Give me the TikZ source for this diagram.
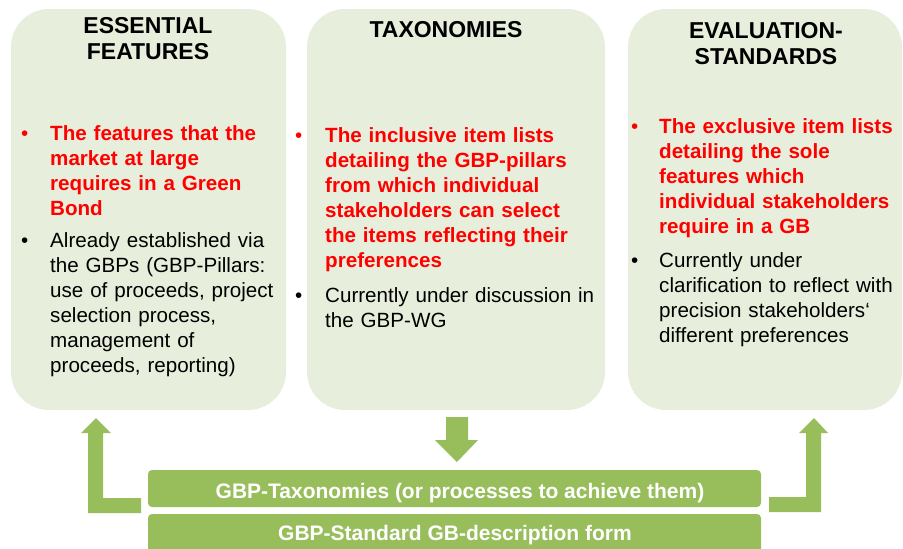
\documentclass[tikz,border=0pt]{standalone}
\usepackage{fontspec}
\setmainfont{Liberation Sans}
\definecolor{boxfill}{RGB}{231,239,220}
\definecolor{bargreen}{RGB}{152,190,92}
\definecolor{redtxt}{RGB}{255,0,0}
\tikzset{
  panel/.style={fill=boxfill, draw=none, rounded corners=38pt, inner sep=0pt},
  bar/.style={fill=bargreen, draw=none, rounded corners=4pt, inner sep=0pt},
  ttl/.style={font=\bfseries\fontsize{23}{26}\selectfont, text width=270pt, align=center, anchor=base, inner sep=0pt},
  redpara/.style={font=\bfseries\fontsize{20.6}{25}\selectfont, text=redtxt, text width=300pt, align=left, anchor=base west, inner sep=0pt},
  blkpara/.style={font=\fontsize{20.6}{25}\selectfont, text=black, text width=300pt, align=left, anchor=base west, inner sep=0pt},
  redbul/.style={font=\fontsize{20.6}{25}\selectfont, text=redtxt, anchor=base west, inner sep=0pt},
  blkbul/.style={font=\fontsize{20.6}{25}\selectfont, text=black, anchor=base west, inner sep=0pt},
  bartxt/.style={font=\bfseries\fontsize{21}{25}\selectfont, text=white, anchor=base, inner sep=0pt},
  blockarrow/.style={fill=bargreen, draw=none}
}
\begin{document}
\begin{tikzpicture}[x=1pt,y=-1pt]
\useasboundingbox (0,0) rectangle (903,549);
\clip (0,0) rectangle (903,549);
% panels
\node[panel, minimum width=275pt, minimum height=401pt] (box1) at (148.5,209.5) {};
\node[panel, minimum width=298pt, minimum height=401pt] (box2) at (456,209.5) {};
\node[panel, minimum width=274pt, minimum height=401pt] (box3) at (765,209.5) {};
% titles
\node[ttl] (t1) at (148,33) {ESSENTIAL\\FEATURES};
\node[ttl] (t2) at (446,37) {TAXONOMIES};
\node[ttl] (t3) at (766,38) {EVALUATION-\\STANDARDS};
% box 1
\node[redbul] (b1r) at (21,140) {•};
\node[redpara] (p1r) at (50,140) {The features that the\\market at large\\requires in a Green\\Bond};
\node[blkbul] (b1b) at (21,247) {•};
\node[blkpara] (p1b) at (50,247) {Already established via\\the GBPs (GBP-Pillars:\\use of proceeds, project\\selection process,\\management of\\proceeds, reporting)};
% box 2
\node[redbul] (b2r) at (295,142) {•};
\node[redpara] (p2r) at (325,142) {The inclusive item lists\\detailing the GBP-pillars\\from which individual\\stakeholders can select\\the items reflecting their\\preferences};
\node[blkbul] (b2b) at (295,302) {•};
\node[blkpara] (p2b) at (325,302) {Currently under discussion in\\the GBP-WG};
% box 3
\node[redbul] (b3r) at (631,133) {•};
\node[redpara] (p3r) at (659,133) {The exclusive item lists\\detailing the sole\\features which\\individual stakeholders\\require in a GB};
\node[blkbul] (b3b) at (631,267) {•};
\node[blkpara] (p3b) at (659,267) {Currently under\\clarification to reflect with\\precision stakeholders‘\\different preferences};
% bars
\node[bar, minimum width=613pt, minimum height=37pt] (bar1) at (454.5,488.5) {};
\node[bar, minimum width=613pt, minimum height=44pt] (bar2) at (454.5,536) {};
\node[bartxt] (bt1) at (460,498) {GBP-Taxonomies (or processes to achieve them)};
\node[bartxt] (bt2) at (455,540) {GBP-Standard GB-description form};
% block arrows
\fill[blockarrow] (88,513) -- (141,513) -- (141,498) -- (103,498) -- (103,433) -- (111,433) -- (96,418) -- (81,433) -- (88,433) -- cycle;
\fill[blockarrow] (769,512) -- (821,512) -- (821,433) -- (828,433) -- (814,418) -- (799,433) -- (806,433) -- (806,497) -- (769,497) -- cycle;
\fill[blockarrow] (446,417) -- (468,417) -- (468,440) -- (478,440) -- (457,462) -- (435,440) -- (446,440) -- cycle;
\end{tikzpicture}
\end{document}
